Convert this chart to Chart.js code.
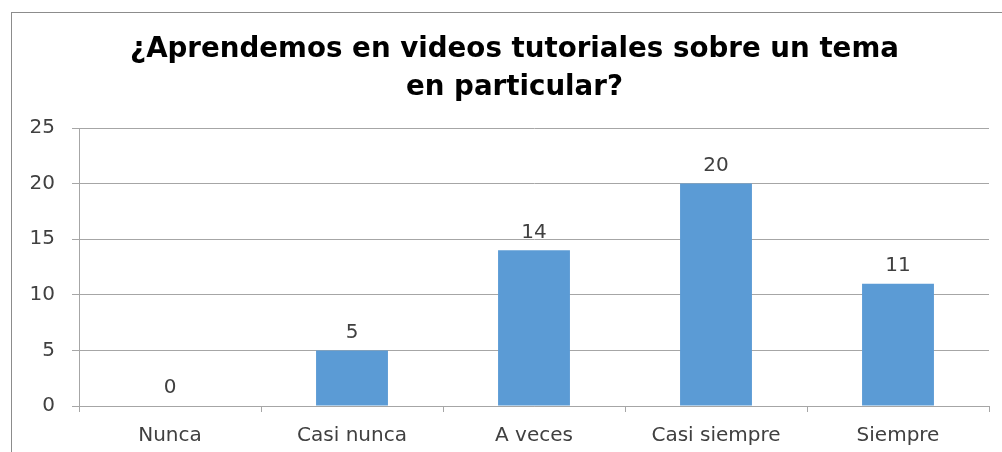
<!DOCTYPE html>
<html>
<head>
<meta charset="utf-8">
<script src="https://cdn.jsdelivr.net/npm/chart.js@4/dist/chart.umd.min.js"></script>
<style>
  html, body { margin: 0; padding: 0; background: #fff; }
  #wrap { width: 1002px; height: 452px; }
</style>
</head>
<body>
<div id="wrap"><canvas id="myChart"></canvas></div>
<script>
const categories = ["Nunca", "Casi nunca", "A veces", "Casi siempre", "Siempre"]
const respuestas = [0, 5, 14, 20, 11]
const yTicks = [0, 5, 10, 15, 20, 25]
const titleLines = ["¿Aprendemos en videos tutoriales sobre un tema", "en particular?"]

const fontFamily = "'DejaVu Sans', 'Open Sans', sans-serif"
const textGray = '#404040'

// frame around the chart (only top and left edges visible in the picture)
const frame = {
  id: 'frame',
  beforeDraw(chart) {
    const ctx = chart.ctx
    ctx.save()
    ctx.fillStyle = '#fff'
    ctx.fillRect(0, 0, chart.width, chart.height)
    ctx.strokeStyle = '#8c8c8c'
    ctx.lineWidth = 1
    ctx.strokeRect(11.5, 12.5, chart.width + 20, chart.height + 20)
    ctx.restore()
  },
  // title sits a bit right of the canvas centre in the original
  afterLayout(chart) {
    if (chart.titleBlock) chart.titleBlock.left += 28
  }
}

// values above the bars
const valueLabels = {
  id: 'valueLabels',
  afterDatasetsDraw(chart) {
    const ctx = chart.ctx
    const meta = chart.getDatasetMeta(0)
    ctx.save()
    ctx.font = `20px ${fontFamily}`
    ctx.fillStyle = textGray
    ctx.textAlign = 'center'
    ctx.textBaseline = 'bottom'
    meta.data.forEach((bar, i) => {
      ctx.fillText(String(respuestas[i]), bar.x, bar.y - 8)
    })
    ctx.restore()
  }
}

const ctx = document.getElementById('myChart').getContext('2d')
const chart = new Chart(ctx, {
  type: 'bar',
  data: {
    labels: categories,
    datasets: [{
      data: respuestas,
      backgroundColor: '#5b9bd5',
      borderWidth: 0,
      barPercentage: 1,
      categoryPercentage: 0.395
    }]
  },
  options: {
    responsive: true,
    maintainAspectRatio: false,
    animation: false,
    events: [],
    layout: { padding: { left: 12, right: 13, top: 12, bottom: 0 } },
    plugins: {
      legend: { display: false },
      tooltip: { enabled: false },
      title: {
        display: true,
        text: titleLines,
        color: '#000',
        font: { family: fontFamily, size: 27.7, weight: 'bold', lineHeight: 1.372 },
        padding: { top: 19, bottom: 21 }
      }
    },
    scales: {
      x: {
        afterFit(scale) { scale.height = 46 },
        grid: { drawOnChartArea: false, tickLength: 6, color: '#a6a6a6' },
        border: { color: '#a6a6a6' },
        ticks: { color: textGray, font: { family: fontFamily, size: 20 }, padding: 12 }
      },
      y: {
        min: 0,
        max: 25,
        afterFit(scale) { scale.width = 67 },
        afterBuildTicks(scale) { scale.ticks = yTicks.map(v => ({ value: v })) },
        grid: { color: '#a6a6a6', tickLength: 7 },
        border: { color: '#a6a6a6' },
        ticks: { color: textGray, font: { family: fontFamily, size: 20 }, padding: 17 }
      }
    }
  },
  plugins: [frame, valueLabels]
})
</script>
</body>
</html>
